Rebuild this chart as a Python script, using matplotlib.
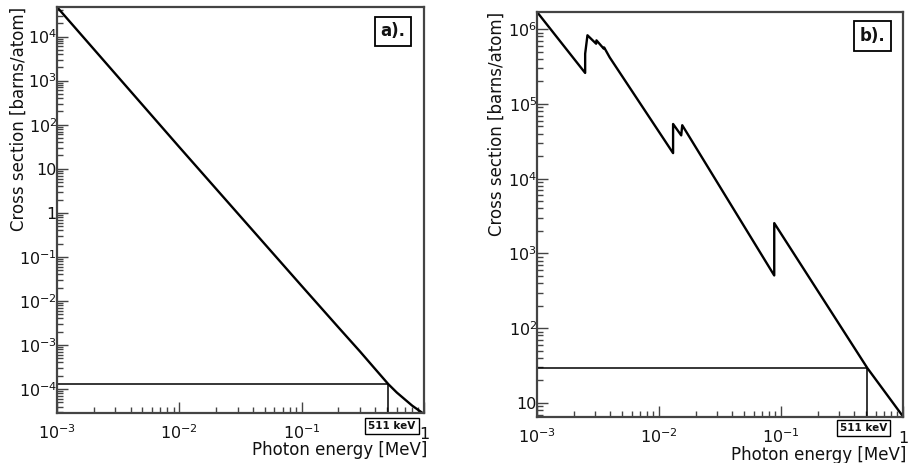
import numpy as np
import matplotlib
matplotlib.use("Agg")
import matplotlib.pyplot as plt
from matplotlib.ticker import LogLocator, NullFormatter

# -------------------------
# Photoelectric cross sections (energy in MeV, sigma in barns/atom)
# -------------------------

# a). light absorber: smooth curve, no edges in range
energy_a = [1e-3, 1e-2, 0.1, 0.2, 0.3, 0.4, 0.511, 0.6, 0.8, 1.0]
sigma_a = [4.7e4, 31.0, 0.0219, 2.5e-3, 7.1e-4, 2.82e-4, 1.29e-4, 8.3e-5, 4.2e-5, 2.7e-5]

# b). heavy absorber with M, L and K absorption edges
energy_b = [1e-3, 2.48e-3, 2.48e-3, 2.59e-3, 3.05e-3, 3.07e-3, 3.52e-3, 3.55e-3,
            3.94e-3, 1.304e-2, 1.304e-2, 1.52e-2, 1.55e-2,
            0.088, 0.088, 0.511, 1.0]
sigma_b = [1.7e6, 2.6e5, 4.7e5, 8.3e5, 6.4e5, 7.1e5, 5.5e5, 5.7e5,
           4.2e5, 2.2e4, 5.4e4, 3.8e4, 5.2e4,
           508.0, 2550.0, 29.2, 6.6]

# value read at the annihilation photon energy
e_511 = 0.511
sigma_511_a = 1.29e-4
sigma_511_b = 29.2

# axis ranges
xlim = (1e-3, 1.0)
ylim_a = (2.85e-5, 4.7e4)
ylim_b = (6.5, 1.7e6)
yticks_a = [1e-4, 1e-3, 1e-2, 1e-1, 1, 10, 1e2, 1e3, 1e4]
yticks_b = [10, 1e2, 1e3, 1e4, 1e5, 1e6]
xticks = [1e-3, 1e-2, 1e-1, 1]

FRAME = "#444444"
TEXT = "#111111"

plt.rcParams["font.family"] = ["DejaVu Sans"]
plt.rcParams["mathtext.default"] = "regular"


def decade_label(v):
    if v == 1:
        return "1"
    if v == 10:
        return "10"
    return "$10^{%d}$" % int(round(np.log10(v)))


def style_axes(ax, ylim, yticks, tag, ylabel_x, xlabel_y):
    ax.set_xscale("log")
    ax.set_yscale("log")
    ax.set_xlim(*xlim)
    ax.set_ylim(*ylim)

    ax.set_xticks(xticks, [decade_label(v) for v in xticks])
    ax.set_yticks(yticks, [decade_label(v) for v in yticks])
    for axis in (ax.xaxis, ax.yaxis):
        axis.set_minor_locator(LogLocator(base=10, subs=np.arange(2, 10), numticks=100))
        axis.set_minor_formatter(NullFormatter())

    ax.tick_params(which="both", direction="in", top=False, right=False,
                   color=FRAME, width=1.0, labelcolor=TEXT, labelsize=11.5)
    ax.tick_params(which="major", length=8)
    ax.tick_params(which="minor", length=4.5)
    ax.tick_params(axis="y", pad=0)
    ax.tick_params(axis="x", pad=19)
    plt.setp(ax.get_xticklabels(), va="baseline")

    for sp in ax.spines.values():
        sp.set_color(FRAME)
        sp.set_linewidth(1.6)

    ax.set_xlabel("Photon energy [MeV]", fontsize=12, color=TEXT, loc="right")
    ax.xaxis.set_label_coords(1.01, xlabel_y)
    ax.set_ylabel("Cross section [barns/atom]", fontsize=12, color=TEXT, loc="top")
    ax.yaxis.set_label_coords(ylabel_x, 1.0)

    ax.text(0.916, 0.94, tag, transform=ax.transAxes, ha="center", va="center",
            fontsize=12, fontweight="bold", color=TEXT,
            bbox=dict(boxstyle="square,pad=0.35", fc="white", ec="black", lw=1.3))


def draw_511(ax, sigma, ylim, box_x, box_y):
    ax.plot([xlim[0], e_511, e_511], [sigma, sigma, ylim[0]],
            color="black", lw=1.1, clip_on=False)
    ax.text(box_x, box_y, "511 keV", transform=ax.transAxes, ha="center", va="center",
            fontsize=7.5, fontweight="bold", color=TEXT, clip_on=False,
            bbox=dict(boxstyle="square,pad=0.3", fc="white", ec="black", lw=1.0))


fig = plt.figure(figsize=(9.09, 4.63), dpi=100)
ax_a = fig.add_axes([0.0627, 0.108, 0.4037, 0.8769])
ax_b = fig.add_axes([0.5908, 0.0994, 0.4026, 0.8747])

ax_a.plot(energy_a, sigma_a, color="black", lw=1.7)
style_axes(ax_a, ylim_a, yticks_a, "a).", -0.079, -0.069)
draw_511(ax_a, sigma_511_a, ylim_a, 0.913, -0.032)

ax_b.plot(energy_b, sigma_b, color="black", lw=1.7)
style_axes(ax_b, ylim_b, yticks_b, "b).", -0.085, -0.071)
draw_511(ax_b, sigma_511_b, ylim_b, 0.892, -0.028)

fig.savefig("out.png", dpi=100, facecolor="white")
